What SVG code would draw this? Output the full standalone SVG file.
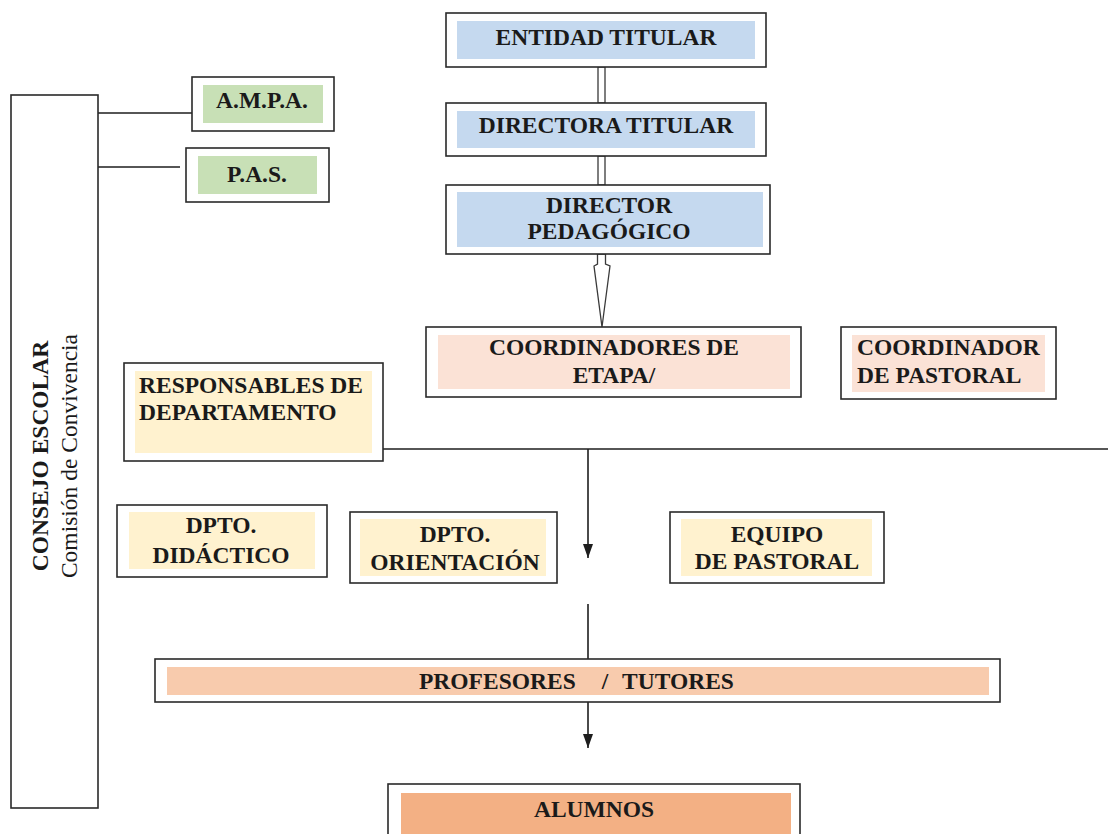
<svg xmlns="http://www.w3.org/2000/svg" width="1108" height="834" viewBox="0 0 1108 834">
<defs>
<style>
.box{fill:#fff;stroke:#2a2a2a;stroke-width:1.6}
.blue{fill:#c5d9ef}
.green{fill:#c8e0b6}
.pink{fill:#fbe2d6}
.yellow{fill:#fff2cf}
.peach{fill:#f8cbad}
.orange{fill:#f3b084}
.t{font-family:'Liberation Serif','Times New Roman',serif;font-weight:bold;font-size:23.5px;fill:#1a1a1a}
.r{font-family:'Liberation Serif','Times New Roman',serif;font-size:23.5px;fill:#1a1a1a}
.c{text-anchor:middle}
.line{stroke:#1e1e1e;stroke-width:1.6;fill:none}
.hollow{fill:#fff;stroke:#3a3a3a;stroke-width:1.3}
</style>
<marker id="ah" viewBox="0 0 14 10" refX="14" refY="5" markerWidth="14" markerHeight="10" markerUnits="userSpaceOnUse" orient="auto">
<path d="M0,0 L14,5 L0,10 z" fill="#1e1e1e"/>
</marker>
</defs>
<rect width="1108" height="834" fill="#fff"/>

<g id="connectors">
<rect class="hollow" x="598" y="67" width="7" height="36"/>
<rect class="hollow" x="598" y="156" width="7" height="29"/>
<polygon class="hollow" points="597.5,254 605.5,254 605.5,264 610,266 602,327 594,266 597.5,264"/>
<line class="line" x1="98" y1="113" x2="192" y2="113"/>
<line class="line" x1="98" y1="167" x2="180" y2="167"/>
<line class="line" x1="383" y1="449" x2="1108" y2="449"/>
<line class="line" x1="588" y1="449" x2="588" y2="558" marker-end="url(#ah)"/>
<line class="line" x1="588" y1="604" x2="588" y2="659"/>
<line class="line" x1="588" y1="702" x2="588" y2="748" marker-end="url(#ah)"/>
</g>

<g font-family="Liberation Serif, Times New Roman, serif">
<g id="consejo-escolar">
<rect class="box" x="11" y="95" width="87" height="713"/>
<text class="t c" font-size="24" transform="translate(48,456) rotate(-90)">CONSEJO ESCOLAR</text>
<text class="r c" transform="translate(77,456) rotate(-90)">Comisión de Convivencia</text>
</g>

<g id="entidad-titular">
<rect class="box" x="446" y="13" width="320" height="54"/>
<rect class="blue" x="457" y="21" width="298" height="38"/>
<text class="t c" x="606" y="45">ENTIDAD TITULAR</text>
</g>

<g id="directora-titular">
<rect class="box" x="446" y="103" width="320" height="53"/>
<rect class="blue" x="457" y="111" width="298" height="37"/>
<text class="t c" x="606" y="133">DIRECTORA TITULAR</text>
</g>

<g id="director-pedagogico">
<rect class="box" x="446" y="185" width="324" height="69"/>
<rect class="blue" x="457" y="192" width="306" height="55"/>
<text class="t c" x="609" y="213">DIRECTOR</text>
<text class="t c" x="609" y="239">PEDAGÓGICO</text>
</g>

<g id="ampa">
<rect class="box" x="192" y="77" width="142" height="54"/>
<rect class="green" x="203" y="85" width="120" height="38"/>
<text class="t c" x="262" y="108">A.M.P.A.</text>
</g>

<g id="pas">
<rect class="box" x="186" y="148" width="143" height="54"/>
<rect class="green" x="198" y="156" width="119" height="38"/>
<text class="t c" x="257" y="182">P.A.S.</text>
</g>

<g id="coordinadores-etapa">
<rect class="box" x="426" y="327" width="375" height="70"/>
<rect class="pink" x="438" y="335" width="352" height="54"/>
<text class="t c" x="614" y="355">COORDINADORES DE</text>
<text class="t c" x="614" y="383">ETAPA/</text>
</g>

<g id="coordinador-pastoral">
<rect class="box" x="841" y="327" width="215" height="72"/>
<rect class="pink" x="852" y="335" width="193" height="57"/>
<text class="t" x="857" y="355">COORDINADOR</text>
<text class="t" x="857" y="383">DE PASTORAL</text>
</g>

<g id="responsables-departamento">
<rect class="box" x="124" y="363" width="259" height="98"/>
<rect class="yellow" x="135" y="371" width="237" height="82"/>
<text class="t" x="139" y="393">RESPONSABLES DE</text>
<text class="t" x="139" y="420">DEPARTAMENTO</text>
</g>

<g id="dpto-didactico">
<rect class="box" x="117" y="505" width="210" height="72"/>
<rect class="yellow" x="129" y="512" width="186" height="57"/>
<text class="t c" x="221" y="533">DPTO.</text>
<text class="t c" x="221" y="563">DIDÁCTICO</text>
</g>

<g id="dpto-orientacion">
<rect class="box" x="350" y="512" width="207" height="71"/>
<rect class="yellow" x="360" y="519" width="186" height="57"/>
<text class="t c" x="455" y="542">DPTO.</text>
<text class="t c" x="455" y="570">ORIENTACIÓN</text>
</g>

<g id="equipo-pastoral">
<rect class="box" x="670" y="512" width="214" height="71"/>
<rect class="yellow" x="681" y="519" width="191" height="57"/>
<text class="t c" x="777" y="542">EQUIPO</text>
<text class="t c" x="777" y="569">DE PASTORAL</text>
</g>

<g id="profesores-tutores">
<rect class="box" x="155" y="659" width="845" height="43"/>
<rect class="peach" x="167" y="667" width="822" height="28"/>
<text class="t" x="419" y="689">PROFESORES</text>
<text class="t c" x="605" y="689">/</text>
<text class="t" x="622" y="689">TUTORES</text>
</g>

<g id="alumnos">
<rect class="box" x="388" y="784" width="412" height="60"/>
<rect class="orange" x="401" y="793" width="390" height="50"/>
<text class="t c" x="594" y="817">ALUMNOS</text>
</g>
</g>
</svg>
